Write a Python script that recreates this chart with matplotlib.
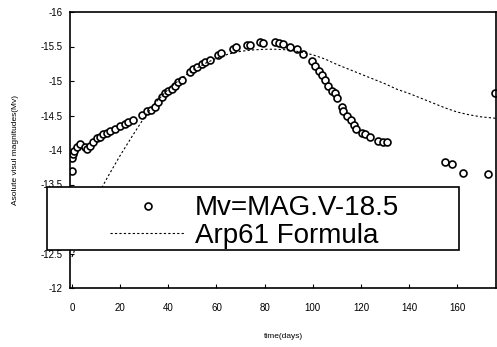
import matplotlib
matplotlib.use("Agg")
import matplotlib.pyplot as plt
from matplotlib.patches import Rectangle

plt.rcParams['font.family'] = ['Liberation Sans', 'DejaVu Sans']

# Observed data: time (days) and absolute visual magnitude
obs_days = [0, 0.2, 0.4, 1, 2, 3.5, 5.4, 6.3, 7.5, 8.8, 10.2, 11.6, 13, 14.4, 15.8,
            17.8, 19.9, 22, 23.4, 25.4, 28.9, 31, 33, 34.4, 35.8, 37.2, 38.6, 40,
            41.4, 42.7, 44.1, 45.5, 49, 50.3, 52, 53.8, 55.2, 57.3, 60.7, 62.1,
            67, 68.3, 72.5, 74, 78, 79.5, 84.4, 85.8, 87.8, 90.6, 93.4, 96.1,
            99.6, 101, 102.4, 103.7, 105.1, 106.5, 107.9, 109.3, 110, 112, 112.7,
            114.1, 115.8, 117.1, 118, 120.3, 121.7, 123.8, 127.2, 129.3, 130.7,
            154.9, 157.7, 162.5, 172.9, 175.6]
obs_mag = [-13.70, -13.88, -13.94, -13.99, -14.05, -14.08, -14.05, -14.02, -14.06,
           -14.12, -14.17, -14.19, -14.23, -14.25, -14.28, -14.31, -14.35, -14.38,
           -14.40, -14.43, -14.51, -14.56, -14.58, -14.62, -14.69, -14.77, -14.82,
           -14.86, -14.89, -14.93, -14.98, -15.02, -15.13, -15.17, -15.21, -15.25,
           -15.28, -15.31, -15.38, -15.41, -15.47, -15.49, -15.52, -15.52, -15.56,
           -15.55, -15.56, -15.55, -15.53, -15.50, -15.46, -15.39, -15.29, -15.22,
           -15.15, -15.09, -15.01, -14.93, -14.86, -14.82, -14.76, -14.63, -14.56,
           -14.49, -14.43, -14.36, -14.30, -14.25, -14.23, -14.19, -14.13, -14.11,
           -14.11, -13.82, -13.80, -13.66, -13.65, -14.82]

# Arp61 formula curve
arp_days = [0, 5, 10, 15, 20, 25, 30, 35, 40, 45, 50, 55, 60, 65, 70, 75, 80, 85,
            90, 95, 100, 105, 110, 115, 120, 125, 130, 135, 140, 145, 150, 155,
            160, 165, 170, 176]
arp_mag = [-12.45, -12.9, -13.3, -13.62, -13.92, -14.2, -14.47, -14.7, -14.88,
           -15.03, -15.15, -15.25, -15.33, -15.39, -15.43, -15.45, -15.46, -15.46,
           -15.45, -15.42, -15.38, -15.32, -15.24, -15.17, -15.10, -15.03, -14.96,
           -14.88, -14.82, -14.75, -14.68, -14.61, -14.55, -14.51, -14.48, -14.46]

xticks = [0, 20, 40, 60, 80, 100, 120, 140, 160]
yticks = [-16, -15.5, -15, -14.5, -14, -13.5, -13, -12.5, -12]
ytick_labels = ["-16", "-15.5", "-15", "-14.5", "-14", "-13.5", "-13", "-12.5", "-12"]

W, H = 497, 347
fig = plt.figure(figsize=(W / 100, H / 100), dpi=100)
ax = fig.add_axes([70 / W, 1 - 288 / H, 0.858, (288 - 12) / H])

ln_obs, = ax.plot(obs_days, obs_mag, linestyle='none', marker='o', markersize=5,
                  markerfacecolor='white', markeredgecolor='black', markeredgewidth=1.2)
ln_arp, = ax.plot(arp_days, arp_mag, linestyle=(0, (2, 2)), color='black', linewidth=0.8)

ax.set_xlim(-0.83, 176.3)
ax.set_ylim(-12, -16)
ax.set_xticks(xticks)
ax.set_yticks(yticks)
ax.set_yticklabels(ytick_labels)
ax.tick_params(direction='in', labelsize=7, length=3)
ax.tick_params(axis='x', pad=11)
ax.tick_params(axis='y', pad=5)
ax.set_xlabel("time(days)", fontsize=6, labelpad=14)
ax.set_ylabel("Asolute visul magnitudes(Mv)", fontsize=6, labelpad=16)
for s in ax.spines.values():
    s.set_linewidth(1.2)

# legend frame (extends beyond the axes on the left)
frame = Rectangle((47 / W, 1 - 250 / H), (459 - 47) / W, (250 - 187) / H,
                  transform=fig.transFigure, facecolor='white', edgecolor='black',
                  linewidth=1.2, zorder=9)
fig.patches.append(frame)

leg = fig.legend([ln_obs, ln_arp], ["Mv=MAG.V-18.5", "Arp61 Formula"],
                 bbox_to_anchor=(110 / W, 1 - 222 / H), loc='center left',
                 fontsize=20, frameon=False, handlelength=2.7,
                 handletextpad=0.35, borderpad=0.0, labelspacing=0.05,
                 borderaxespad=0)
leg.set_zorder(10)

fig.savefig("out.png", dpi=100)
